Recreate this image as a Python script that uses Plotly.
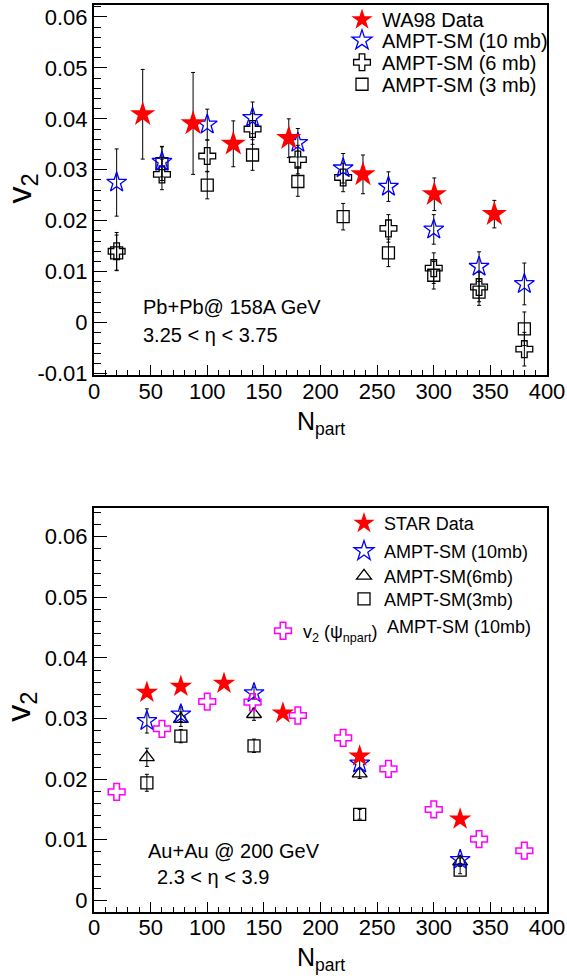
import plotly.graph_objects as go

# ---------------- data ----------------
# Top panel: Pb+Pb @ 158A GeV (WA98)
npart_wa98 = [43, 87.5, 123, 172, 237.5, 300.5, 353.5]
v2_wa98 = [0.0409, 0.0391, 0.0351, 0.0362, 0.0291, 0.0252, 0.0213]
err_wa98 = [0.0088, 0.0100, 0.0045, 0.0038, 0.0038, 0.0032, 0.0027]

npart_ampt_top = [20, 60, 100, 140, 180, 220, 260, 300, 340, 380]
v2_top_10mb = [0.0275, 0.0316, 0.0389, 0.0402, 0.0353, 0.0303, 0.0267, 0.0183, 0.0110, 0.0076]
err_top_10mb = [0.0066, 0.0030, 0.0030, 0.0031, 0.0028, 0.0029, 0.0029, 0.0029, 0.0029, 0.0041]
v2_top_6mb = [0.0140, 0.0291, 0.0327, 0.0380, 0.0320, 0.0285, 0.0185, 0.0107, 0.0070, -0.0052]
err_top_6mb = [0.0037, 0.0030, 0.0031, 0.0030, 0.0028, 0.0028, 0.0027, 0.0030, 0.0029, 0.0033]
v2_top_3mb = [0.0137, 0.0312, 0.0270, 0.0329, 0.0277, 0.0208, 0.0137, 0.0093, 0.0060, -0.0012]
err_top_3mb = [0.0035, 0.0033, 0.0027, 0.0030, 0.0029, 0.0026, 0.0027, 0.0027, 0.0026, 0.0033]

# Bottom panel: Au+Au @ 200 GeV (STAR)
npart_star = [46.7, 76.7, 114.8, 166.8, 234.6, 323.3]
v2_star = [0.0343, 0.0353, 0.0358, 0.0309, 0.0238, 0.0134]

npart_ampt_bot = [46.7, 76.7, 141.3, 234.6, 323.3]
v2_bot_10mb = [0.0296, 0.0307, 0.0342, 0.0226, 0.0067]
err_bot_10mb = [0.0020, 0.0012, 0.0010, 0.0008, 0.0006]
v2_bot_6mb = [0.0236, 0.0299, 0.0307, 0.0209, 0.0064]
err_bot_6mb = [0.0015, 0.0012, 0.0010, 0.0008, 0.0006]
v2_bot_3mb = [0.0194, 0.0271, 0.0255, 0.0142, 0.0050]
err_bot_3mb = [0.0014, 0.0011, 0.0011, 0.0008, 0.0006]

npart_psi = [20, 60, 100, 140, 180, 220, 260, 300, 340, 380]
v2_psi = [0.0179, 0.0283, 0.0328, 0.0327, 0.0305, 0.0268, 0.0217, 0.0150, 0.0101, 0.0082]

# ticks
x_tick_vals = [0, 50, 100, 150, 200, 250, 300, 350, 400]
x_tick_text = ["0", "50", "100", "150", "200", "250", "300", "350", "400"]
y_top_tick_vals = [-0.01, 0, 0.01, 0.02, 0.03, 0.04, 0.05, 0.06]
y_top_tick_text = ["-0.01", "0", "0.01", "0.02", "0.03", "0.04", "0.05", "0.06"]
y_bot_tick_vals = [0, 0.01, 0.02, 0.03, 0.04, 0.05, 0.06]
y_bot_tick_text = ["0", "0.01", "0.02", "0.03", "0.04", "0.05", "0.06"]

# ---------------- layout helpers ----------------
W, H = 567, 979
FONT = "Liberation Sans, Arial, sans-serif"


def px(x):
    return x / W


def py(y):
    return 1 - y / H


XDOM = [px(94), px(547)]
YDOM_TOP = [py(373.3), py(1.7)]
YDOM_BOT = [py(911.7), py(506.7)]

fig = go.Figure()


def err(vals):
    return dict(type="data", array=vals, visible=True, color="black", thickness=1, width=2)


# ---- top panel traces ----
fig.add_trace(go.Scatter(x=npart_ampt_top, y=v2_top_3mb, mode="markers", name="AMPT-SM (3 mb)",
                         marker=dict(symbol="square-open", size=12, color="black", line=dict(width=1.3)),
                         error_y=err(err_top_3mb), xaxis="x", yaxis="y", legend="legend4"))
fig.add_trace(go.Scatter(x=npart_ampt_top, y=v2_top_6mb, mode="markers", name="AMPT-SM (6 mb)",
                         marker=dict(symbol="cross-open", size=14, color="black", line=dict(width=1.3)),
                         error_y=err(err_top_6mb), xaxis="x", yaxis="y", legend="legend3"))
fig.add_trace(go.Scatter(x=npart_ampt_top, y=v2_top_10mb, mode="markers", name="AMPT-SM (10 mb)",
                         marker=dict(symbol="star-open", size=15, color="blue", line=dict(width=1.3)),
                         error_y=err(err_top_10mb), xaxis="x", yaxis="y", legend="legend2"))
fig.add_trace(go.Scatter(x=npart_wa98, y=v2_wa98, mode="markers", name="WA98 Data",
                         marker=dict(symbol="star", size=19, color="red", line=dict(width=0)),
                         error_y=err(err_wa98), xaxis="x", yaxis="y", legend="legend"))

# ---- bottom panel traces ----
fig.add_trace(go.Scatter(x=npart_ampt_bot, y=v2_bot_3mb, mode="markers", name="AMPT-SM(3mb)",
                         marker=dict(symbol="square-open", size=12, color="black", line=dict(width=1.3)),
                         error_y=err(err_bot_3mb), xaxis="x2", yaxis="y2", legend="legend8"))
fig.add_trace(go.Scatter(x=npart_ampt_bot, y=v2_bot_6mb, mode="markers", name="AMPT-SM(6mb)",
                         marker=dict(symbol="triangle-up-open", size=13, color="black", line=dict(width=1.3)),
                         error_y=err(err_bot_6mb), xaxis="x2", yaxis="y2", legend="legend7"))
fig.add_trace(go.Scatter(x=npart_ampt_bot, y=v2_bot_10mb, mode="markers", name="AMPT-SM (10mb)",
                         marker=dict(symbol="star-open", size=15, color="blue", line=dict(width=1.3)),
                         error_y=err(err_bot_10mb), xaxis="x2", yaxis="y2", legend="legend6"))
fig.add_trace(go.Scatter(x=npart_psi, y=v2_psi, mode="markers",
                         name="v<sub>2</sub> (\u03c8<sub>npart</sub>)",
                         marker=dict(symbol="cross-open", size=14, color="magenta", line=dict(width=1.5)),
                         xaxis="x2", yaxis="y2", legend="legend9"))
fig.add_trace(go.Scatter(x=npart_star, y=v2_star, mode="markers", name="STAR Data",
                         marker=dict(symbol="star", size=17, color="red", line=dict(width=0)),
                         xaxis="x2", yaxis="y2", legend="legend5"))


def xaxis(domain, anchor):
    return dict(domain=domain, anchor=anchor, range=[0, 400],
                tickmode="array", tickvals=x_tick_vals, ticktext=x_tick_text,
                ticks="inside", ticklen=10, tickwidth=1, tickcolor="black",
                showline=True, linecolor="black", linewidth=2, mirror=True,
                showgrid=False, zeroline=False, automargin=False,
                ticklabelstandoff=-5,
                tickfont=dict(family=FONT, size=22, color="black"),
                minor=dict(ticks="inside", ticklen=5, tickwidth=1, tickcolor="black",
                           tick0=0, dtick=10, showgrid=False))


def yaxis(domain, anchor, rng, vals, text):
    return dict(domain=domain, anchor=anchor, range=rng,
                tickmode="array", tickvals=vals, ticktext=text,
                ticks="inside", ticklen=13, tickwidth=1, tickcolor="black",
                showline=True, linecolor="black", linewidth=2, mirror=True,
                showgrid=False, zeroline=False, automargin=False,
                tickfont=dict(family=FONT, size=22, color="black"),
                minor=dict(ticks="inside", ticklen=7, tickwidth=1, tickcolor="black",
                           tick0=0, dtick=0.002, showgrid=False))


def leg(xm, ym, size):
    # xm, ym: pixel position of legend marker centre
    return dict(x=px(xm - 20), y=py(ym), xanchor="left", yanchor="middle",
                bgcolor="rgba(0,0,0,0)", borderwidth=0, itemsizing="trace",
                font=dict(family=FONT, size=size, color="black"))


annotations = [
    dict(text="Pb+Pb@ 158A GeV", x=px(141), y=py(305), xanchor="left", yanchor="middle"),
    dict(text="3.25 < \u03b7 < 3.75", x=px(141), y=py(333), xanchor="left", yanchor="middle"),
    dict(text="Au+Au @ 200 GeV", x=px(146), y=py(851), xanchor="left", yanchor="middle"),
    dict(text="2.3 < \u03b7 < 3.9", x=px(155), y=py(877), xanchor="left", yanchor="middle"),
    dict(text="AMPT-SM (10mb)", x=px(385), y=py(626), xanchor="left", yanchor="middle",
         font=dict(family=FONT, size=18, color="black")),
    dict(text="N<sub>part</sub>", x=px(321), y=py(421), xanchor="center", yanchor="middle",
         font=dict(family=FONT, size=25, color="black")),
    dict(text="N<sub>part</sub>", x=px(321), y=py(959), xanchor="center", yanchor="middle",
         font=dict(family=FONT, size=25, color="black")),
    dict(text="v<sub>2</sub>", x=px(21), y=py(186), xanchor="center", yanchor="middle", textangle=-90,
         font=dict(family=FONT, size=34, color="black")),
    dict(text="v<sub>2</sub>", x=px(21), y=py(706), xanchor="center", yanchor="middle", textangle=-90,
         font=dict(family=FONT, size=34, color="black")),
]
for a in annotations:
    a.update(xref="paper", yref="paper", showarrow=False)
    a.setdefault("font", dict(family=FONT, size=20, color="black"))

fig.update_layout(
    width=W, height=H, autosize=False,
    margin=dict(l=0, r=0, t=0, b=0, pad=0),
    paper_bgcolor="white", plot_bgcolor="white",
    font=dict(family=FONT, color="black"),
    showlegend=True,
    xaxis=xaxis(XDOM, "y"),
    yaxis=yaxis(YDOM_TOP, "x", [-0.0103, 0.0624], y_top_tick_vals, y_top_tick_text),
    xaxis2=xaxis(XDOM, "y2"),
    yaxis2=yaxis(YDOM_BOT, "x2", [-0.0019, 0.0647], y_bot_tick_vals, y_bot_tick_text),
    legend=leg(362, 16.7, 20),
    legend2=leg(362, 37.5, 20),
    legend3=leg(362, 59.5, 20),
    legend4=leg(362, 81.5, 20),
    legend5=leg(364, 522, 18),
    legend6=leg(364, 550, 18),
    legend7=leg(364, 575, 18),
    legend8=leg(364, 598, 18),
    legend9=leg(283, 630, 18),
    annotations=annotations,
)

fig.write_html(
    "out.html",
    config={"displayModeBar": False},
    post_script="document.body.style.margin='0';document.body.style.padding='0';"
                "document.body.style.overflow='hidden';",
)
